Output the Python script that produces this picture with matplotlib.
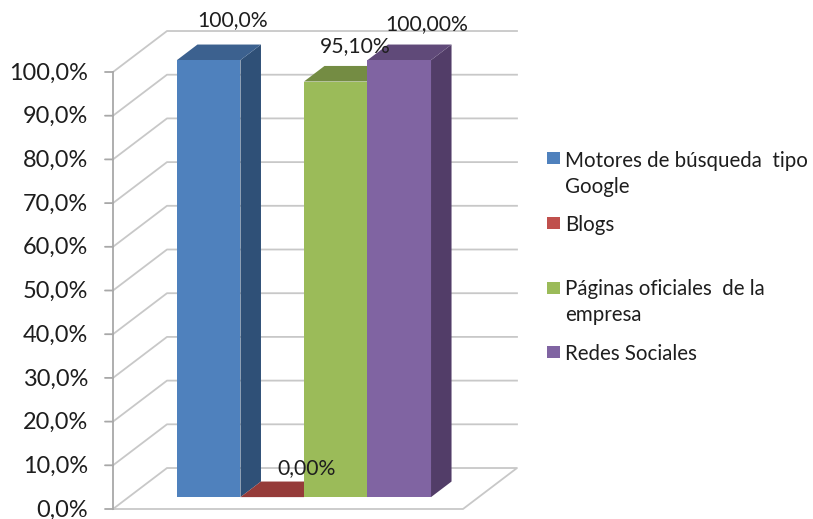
#!/usr/bin/env python3
"""Barras 3D falsas (proyeccion oblicua) con leyenda a la derecha."""

import matplotlib
matplotlib.use("Agg")
import matplotlib.pyplot as plt
from matplotlib.patches import Polygon, Rectangle

# ===================== datos =====================
SERIES = ["Motores de búsqueda  tipo\nGoogle", "Blogs",
          "Páginas oficiales  de la\nempresa", "Redes Sociales"]
VALUES = [100.0, 0.0, 95.1, 100.0]
VALUE_LABELS = ["100,0%", "0,00%", "95,10%", "100,00%"]
TICKS = [0, 10, 20, 30, 40, 50, 60, 70, 80, 90, 100]
TICK_LABELS = ["0,0%", "10,0%", "20,0%", "30,0%", "40,0%", "50,0%",
               "60,0%", "70,0%", "80,0%", "90,0%", "100,0%"]

# ===================== estilo =====================
FRONT = ["#4F81BD", "#C0504D", "#9BBB59", "#8064A2"]
TOP = ["#3C618F", "#953B39", "#748C43", "#604A79"]
SIDE = ["#2F5077", "#7A2F2D", "#5E7236", "#523D68"]
GRID = "#C8C8C8"
TEXT = "#1E1E1E"
FONT = "Lato"
W, H = 813, 519

# profundidad del suelo, en unidades de datos
DEPTH_X = 0.85
DEPTH_Y = 9.38
BAR_D0 = 0.29
BAR_D1 = 0.67
# desplazamiento de cada etiqueta respecto a su barra (px)
LABEL_OFFSET = [(56, 40), (66, 29), (51, 35), (59, 36)]

fig = plt.figure(figsize=(W / 100, H / 100), dpi=100)
ax = fig.add_axes([113 / W, 1 - 509 / H, 350 / W, 437 / H])
ax.set_xlim(0, 5.51)
ax.set_ylim(0, 100)
ax.axis("off")


def proj(x, v, d):
    """Pasa (categoria, valor, profundidad 0-1) a coordenadas del eje."""
    return (x + d * DEPTH_X, v + d * DEPTH_Y)


def fig_px(x, y):
    return (x / W, 1 - y / H)


xmax = ax.get_xlim()[1]

# paredes: lineas de rejilla
for t in TICKS:
    pts = [proj(0, t, 0), proj(0, t, 1), proj(xmax, t, 1)]
    if t == 0:
        pts = [proj(0, t, 0), proj(0, t, 1), proj(xmax, t, 1), proj(xmax, t, 0), proj(0, t, 0)]
    ax.plot(*zip(*pts), color=GRID, lw=1.3, clip_on=False, zorder=1)

# eje vertical con marcas
ax.plot([0, 0], [0, 100], color="#A8A8A8", lw=1.3, clip_on=False, zorder=2)
for t, lab in zip(TICKS, TICK_LABELS):
    ax.annotate("", xy=(0, t), xytext=(-8, 0), textcoords="offset pixels",
                arrowprops=dict(arrowstyle="-", color="#A8A8A8", lw=1.3, shrinkA=0, shrinkB=0))
    ax.annotate(lab, xy=(0, t), xytext=(-25, -1), textcoords="offset pixels",
                ha="right", va="center", fontsize=16.9, family=FONT, color=TEXT,
                annotation_clip=False)

# barras
for i, v in enumerate(VALUES):
    x0, x1 = 0.76 + i, 1.76 + i
    front = [proj(x0, 0, BAR_D0), proj(x1, 0, BAR_D0), proj(x1, v, BAR_D0), proj(x0, v, BAR_D0)]
    top = [proj(x0, v, BAR_D0), proj(x1, v, BAR_D0), proj(x1, v, BAR_D1), proj(x0, v, BAR_D1)]
    side = [proj(x1, 0, BAR_D0), proj(x1, 0, BAR_D1), proj(x1, v, BAR_D1), proj(x1, v, BAR_D0)]
    z = 3 + i
    ax.add_patch(Polygon(side, closed=True, fc=SIDE[i], ec="none", zorder=z, clip_on=False))
    ax.add_patch(Polygon(top, closed=True, fc=TOP[i], ec="none", zorder=z, clip_on=False))
    ax.add_patch(Polygon(front, closed=True, fc=FRONT[i], ec="none", zorder=z, clip_on=False))

# etiquetas de datos
for i, (v, lab) in enumerate(zip(VALUES, VALUE_LABELS)):
    ax.annotate(lab, xy=proj(0.76 + i, v, BAR_D0), xytext=LABEL_OFFSET[i],
                textcoords="offset pixels", ha="center", va="center",
                fontsize=15.2, family=FONT, color=TEXT, zorder=10,
                annotation_clip=False)

# leyenda manual
swatch_y = [158, 223, 288, 352]
text_y = [[161, 187], [225], [289, 315], [354]]
for i, name in enumerate(SERIES):
    fig.add_artist(Rectangle(fig_px(547, swatch_y[i] + 6), 13 / W, 12 / H, fc=FRONT[i], ec="none",
                             transform=fig.transFigure))
    for line, y in zip(name.split("\n"), text_y[i]):
        fig.text(*fig_px(565, y), line, ha="left", va="center", fontsize=14.8,
                 family=FONT, color=TEXT)

fig.savefig("out.png", dpi=100)
